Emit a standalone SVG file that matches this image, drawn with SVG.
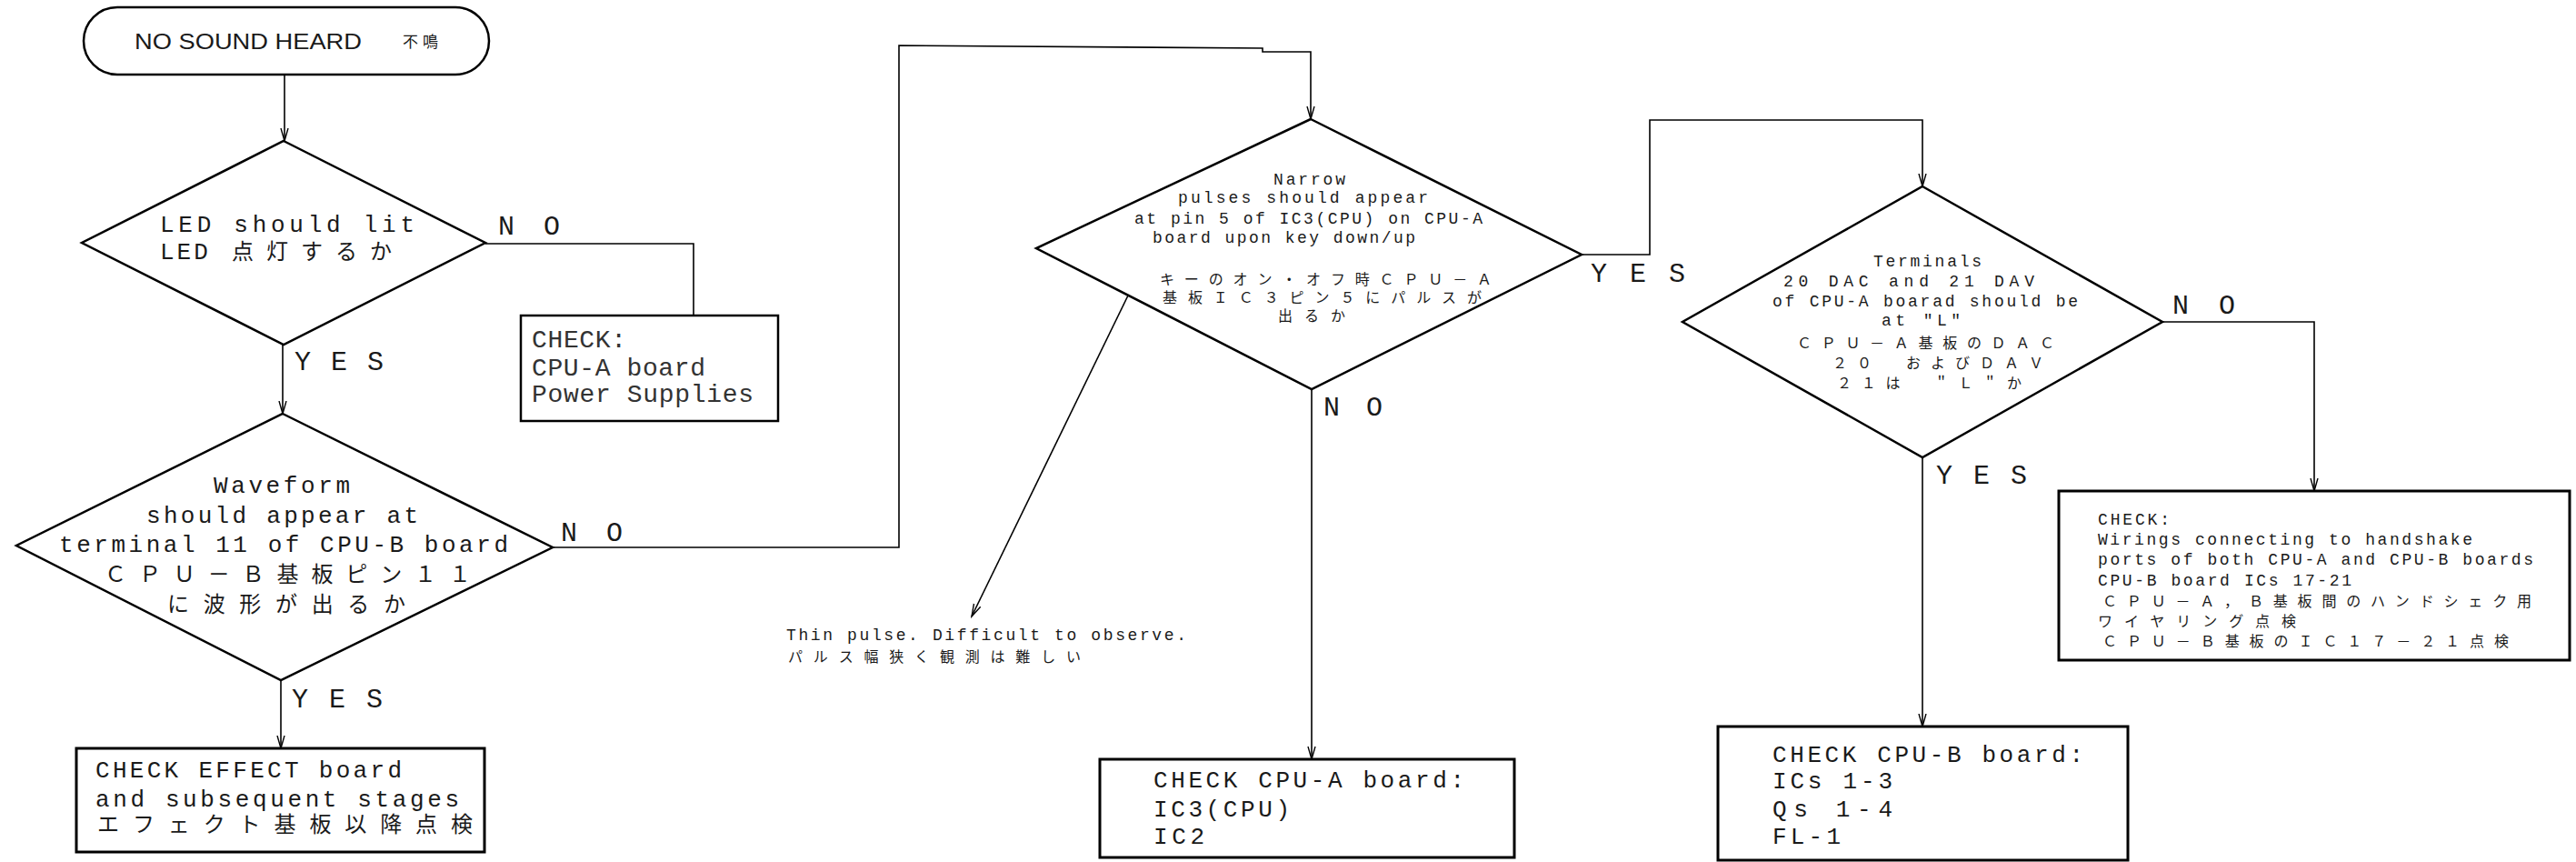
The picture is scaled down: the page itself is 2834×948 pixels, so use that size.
<svg xmlns="http://www.w3.org/2000/svg" width="2834" height="948" viewBox="0 0 2834 948">
<defs>
<style>
.sh{fill:#fff;stroke:#000;stroke-width:2.5;stroke-linejoin:miter}
.bx{fill:#fff;stroke:#000;stroke-width:3}
.cn{fill:none;stroke:#000;stroke-width:1.6}
text{fill:#1a1a1a;font-family:"Liberation Mono","Noto Sans CJK JP",monospace}
.L{font-size:26px}
.S{font-size:18px}
.LJ{font-size:24px}
.SJ{font-size:16px}
.YN{font-size:30px}
.P{font-size:28px;fill:#333}
.T{font-family:"Liberation Sans","Noto Sans CJK JP",sans-serif;font-size:24px}
.TJ{font-family:"Noto Sans CJK JP",sans-serif;font-size:17px}
</style>
<marker id="ah" markerWidth="16" markerHeight="12" refX="14" refY="6" orient="auto" markerUnits="userSpaceOnUse">
<path d="M0,2 L14,6 L0,10" fill="none" stroke="#000" stroke-width="1.4"/>
</marker>
</defs>
<rect width="2834" height="948" fill="#fff"/>

<g id="connectors">
<path class="cn" d="M313,82 V155" marker-end="url(#ah)"/>
<path class="cn" d="M311,379 V455" marker-end="url(#ah)"/>
<path class="cn" d="M534,268 H763 V347"/>
<path class="cn" d="M309,748 V823" marker-end="url(#ah)"/>
<path class="cn" d="M608,602 H989 V50 L1389,53 V57 H1442 V131" marker-end="url(#ah)"/>
<path class="cn" d="M1443,428 V835" marker-end="url(#ah)"/>
<path class="cn" d="M1740,280 H1815 V132 H2115 V205" marker-end="url(#ah)"/>
<path class="cn" d="M2379,354 H2546 V540" marker-end="url(#ah)"/>
<path class="cn" d="M2115,503 V799" marker-end="url(#ah)"/>
<path class="cn" d="M1241,325 L1069,678" marker-end="url(#ah)"/>
</g>

<g id="labels">
<text class="YN" x="548" y="258" textLength="68">N O</text>
<text class="YN" x="324" y="407" textLength="98">Y E S</text>
<text class="YN" x="617" y="595" textLength="68">N O</text>
<text class="YN" x="321" y="778" textLength="100">Y E S</text>
<text class="YN" x="1750" y="310" textLength="104">Y E S</text>
<text class="YN" x="1456" y="457" textLength="65">N O</text>
<text class="YN" x="2390" y="345" textLength="69">N O</text>
<text class="YN" x="2130" y="532" textLength="100">Y E S</text>
</g>

<g id="start">
<rect class="sh" x="92" y="8" width="446" height="74" rx="37" ry="37"/>
<text class="T" x="148" y="54" textLength="250" lengthAdjust="spacingAndGlyphs">NO SOUND HEARD</text>
<text class="TJ" x="443" y="52" textLength="39">不鳴</text>
</g>

<g id="led">
<polygon class="sh" points="312,155 534,267 312,379 90,267"/>
<text class="L" x="176" y="255" textLength="280">LED  should lit</text>
<text class="L" x="176" y="285" style="letter-spacing:3px">LED <tspan class="LJ" x="255" style="letter-spacing:14px">点灯するか</tspan></text>
</g>

<g id="power">
<rect class="bx" x="573" y="347" width="283" height="116" style="stroke-width:2.5"/>
<text class="P" x="585" y="382" textLength="104">CHECK:</text>
<text class="P" x="585" y="413" textLength="191">CPU-A board</text>
<text class="P" x="585" y="442" textLength="244">Power Supplies</text>
</g>

<g id="waveform">
<polygon class="sh" points="311,455 608,602 309,748 18,600"/>
<text class="L" x="235" y="542" textLength="150">Waveform</text>
<text class="L" x="161" y="575" textLength="299">should appear at</text>
<text class="L" x="65" y="607" textLength="494">terminal 11 of CPU-B board</text>
<text class="LJ" x="115" y="640" textLength="403">ＣＰＵ－Ｂ基板ピン１１</text>
<text class="LJ" x="184" y="673" textLength="262">に波形が出るか</text>
</g>

<g id="effect">
<rect class="bx" x="84" y="823" width="449" height="114"/>
<text class="L" x="105" y="855" textLength="337">CHECK EFFECT board</text>
<text class="L" x="105" y="887" textLength="400">and subsequent stages</text>
<text class="LJ" x="107" y="915" textLength="413">エフェクト基板以降点検</text>
</g>

<g id="narrow">
<polygon class="sh" points="1442,131 1740,280 1443,428 1140,273"/>
<text class="S" x="1401" y="203" textLength="79">Narrow</text>
<text class="S" x="1296" y="223" textLength="275">pulses should appear</text>
<text class="S" x="1248" y="246" textLength="383">at pin 5 of IC3(CPU) on CPU-A</text>
<text class="S" x="1268" y="267" textLength="289">board upon key down/up</text>
<text class="SJ" x="1276" y="313" textLength="365">キーのオン・オフ時ＣＰＵ－Ａ</text>
<text class="SJ" x="1279" y="333" textLength="351">基板ＩＣ３ピン５にパルスが</text>
<text class="SJ" x="1406" y="353" textLength="74">出るか</text>
</g>

<g id="note">
<text class="S" x="865" y="704" textLength="440">Thin pulse. Difficult to observe.</text>
<text class="SJ" x="867" y="728" textLength="322">パルス幅狭く観測は難しい</text>
</g>

<g id="cpua">
<rect class="bx" x="1210" y="835" width="456" height="108"/>
<text class="L" x="1269" y="866" textLength="342">CHECK CPU-A board:</text>
<text class="L" x="1269" y="898" textLength="150">IC3(CPU)</text>
<text class="L" x="1269" y="928" textLength="56">IC2</text>
</g>

<g id="terminals">
<polygon class="sh" points="2115,205 2379,354 2115,503 1851,354"/>
<text class="S" x="2061" y="293" textLength="119">Terminals</text>
<text class="S" x="1962" y="315" textLength="276">20 DAC and  21 DAV</text>
<text class="S" x="1950" y="337" textLength="336">of CPU-A boarad should be</text>
<text class="S" x="2070" y="358" textLength="87">at "L"</text>
<text class="SJ" x="1977" y="383" textLength="283">ＣＰＵ－Ａ基板のＤＡＣ</text>
<text class="SJ" x="2016" y="405" textLength="232">２０　およびＤＡＶ</text>
<text class="SJ" x="2021" y="427" textLength="203">２１は　＂Ｌ＂か</text>
</g>

<g id="cpub">
<rect class="bx" x="1890" y="799" width="451" height="147"/>
<text class="L" x="1950" y="838" textLength="342">CHECK CPU-B board:</text>
<text class="L" x="1950" y="867" textLength="132">ICs 1-3</text>
<text class="L" x="1950" y="898" textLength="132">Qs  1-4</text>
<text class="L" x="1950" y="928" textLength="75">FL-1</text>
</g>

<g id="wirings">
<rect class="bx" x="2265" y="540" width="562" height="186"/>
<text class="S" x="2308" y="577" textLength="79">CHECK:</text>
<text class="S" x="2308" y="599" textLength="412">Wirings connecting to handshake</text>
<text class="S" x="2308" y="621" textLength="479">ports of both CPU-A and CPU-B boards</text>
<text class="S" x="2308" y="644" textLength="279">CPU-B board ICs 17-21</text>
<text class="SJ" x="2313" y="667" textLength="472">ＣＰＵ－Ａ，Ｂ基板間のハンドシェク用</text>
<text class="SJ" x="2308" y="689" textLength="218">ワイヤリング点検</text>
<text class="SJ" x="2313" y="711" textLength="447">ＣＰＵ－Ｂ基板のＩＣ１７－２１点検</text>
</g>
</svg>
